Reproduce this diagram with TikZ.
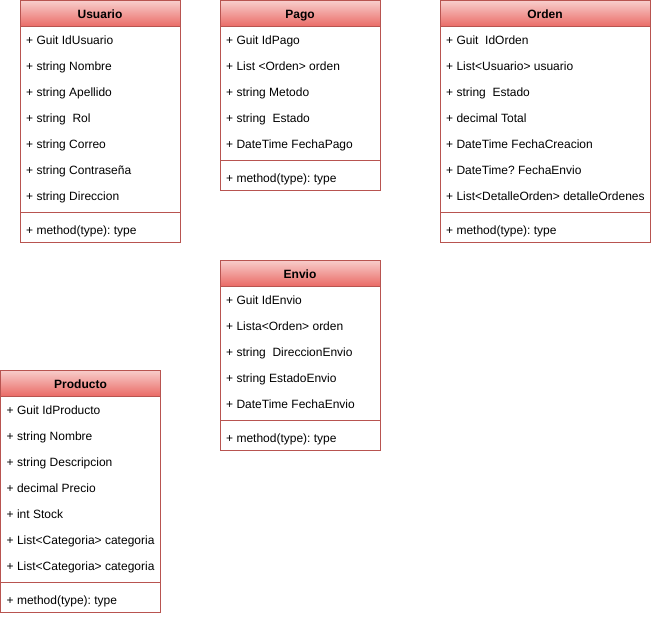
\documentclass[tikz,border=0pt]{standalone}
\usepackage{fontspec}
\setmainfont{Liberation Sans}
\frenchspacing
\definecolor{bord}{HTML}{B85450}
\definecolor{hdtop}{HTML}{F8CECC}
\definecolor{hdbot}{HTML}{EA6B66}
\tikzset{
  classline/.style={draw=bord, line width=1pt},
  hdr/.style={font=\bfseries\fontsize{12}{14}\selectfont, anchor=base, inner sep=0pt},
  attr/.style={font=\fontsize{12}{14}\selectfont, anchor=base west, inner sep=0pt},
}
% #1 name, #2 left, #3 top, #4 width, #5 title, #6 number of attributes, #7 attributes
\newcommand{\umlclass}[7]{%
  \pgfmathsetmacro\cbottom{#3+26+26*#6+34}%
  \pgfmathsetmacro\csep{#3+26+26*#6+4}%
  \pgfmathsetmacro\cright{#2+#4}%
  \pgfmathsetmacro\chead{#3+26}%
  \shade[top color=hdtop, bottom color=hdbot] (#2,#3) rectangle (\cright,\chead);
  \draw[classline] (#2,#3) rectangle (\cright,\cbottom);
  \draw[classline] (#2,\chead) -- (\cright,\chead);
  \draw[classline] (#2,\csep) -- (\cright,\csep);
  \node[hdr] (#1) at ({#2+#4/2},{#3+18}) {#5};
  \foreach \entry [count=\i] in {#7}
    \node[attr] (#1-\i) at ({#2+6},{#3+26*\i+18}) {\entry};
  \node[attr] (#1-m) at ({#2+6},{\cbottom-8}) {+ method(type): type};
}
\begin{document}
\begin{tikzpicture}[x=1pt, y=-1pt]
  \useasboundingbox (0,0) rectangle (652,616);
  \umlclass{usuario}{20}{0.5}{160}{Usuario}{7}{%
    + Guit IdUsuario, + string Nombre, + string Apellido, + string~ Rol,
    + string Correo, + string Contraseña, + string Direccion}
  \umlclass{pago}{220}{0.5}{160}{Pago}{5}{%
    + Guit IdPago, + List <Orden> orden, + string Metodo, + string~ Estado,
    + DateTime FechaPago}
  \umlclass{orden}{440}{0.5}{210}{Orden}{7}{%
    + Guit~ IdOrden, + List<Usuario> usuario, + string~ Estado, + decimal Total,
    + DateTime FechaCreacion, + DateTime? FechaEnvio,
    + List<DetalleOrden> detalleOrdenes}
  \umlclass{envio}{220}{260}{160}{Envio}{5}{%
    + Guit IdEnvio, + Lista<Orden> orden, + string~ DireccionEnvio,
    + string EstadoEnvio, + DateTime FechaEnvio}
  \umlclass{producto}{0.5}{370}{160}{Producto}{7}{%
    + Guit IdProducto, + string Nombre, + string Descripcion, + decimal Precio,
    + int Stock, + List<Categoria> categoria, + List<Categoria> categoria}
\end{tikzpicture}
\end{document}
